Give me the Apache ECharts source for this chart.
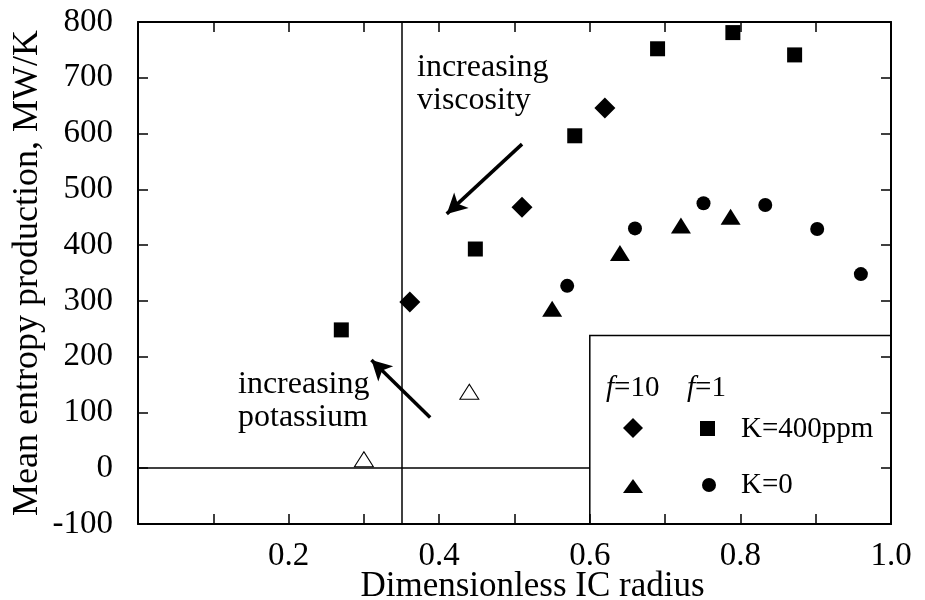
<!DOCTYPE html>
<html>
<head>
<meta charset="utf-8">
<script src="https://cdn.jsdelivr.net/npm/echarts@6/dist/echarts.min.js"></script>
<style>
html,body{margin:0;padding:0;background:#fff;}
#c{width:925px;height:600px;}
</style>
</head>
<body>
<div id="c"></div>
<script>
// Data
const xTicks = [0.2, 0.4, 0.6, 0.8, 1.0];
const yTicks = [-100, 0, 100, 200, 300, 400, 500, 600, 700, 800];
const squareX = [0.27, 0.448, 0.58, 0.69, 0.79, 0.872];      // f=1, K=400ppm
const squareY = [248, 393, 596, 752, 781, 741];
const diamondX = [0.361, 0.51, 0.62];                         // f=10, K=400ppm
const diamondY = [298, 468, 646];
const triangleX = [0.55, 0.64, 0.721, 0.787];                 // f=10, K=0
const triangleY = [286, 386, 435, 451];
const circleX = [0.57, 0.66, 0.751, 0.833, 0.902, 0.96];      // f=1, K=0
const circleY = [327, 430, 475, 472, 429, 348];
const openTriX = [0.30, 0.44];
const openTriY = [16, 137];
const vLineX = 0.35;
const hLineEndX = 0.6;
const legendBox = [[0.6, -100], [1.0, 238]];
const arrowViscosity = [[0.51, 581], [0.41, 456]];
const arrowPotassium = [[0.388, 91], [0.31, 194]];

const zip = (a, b) => a.map((v, i) => [v, b[i]]);
const FONT = 'Liberation Serif';

const chart = echarts.init(document.getElementById('c'));
const axisCommon = {
  type: 'value',
  splitLine: {show: false},
  axisLine: {show: true, onZero: false, lineStyle: {color: '#000', width: 2}},
  axisTick: {show: true, inside: true, length: 10, lineStyle: {color: '#000', width: 1.5}}
};
const solid = {color: '#000', opacity: 1};
const italicRich = {i: {fontStyle: 'italic', fontFamily: FONT, fontSize: 29, fill: '#000'}};
chart.setOption({
  animation: false,
  backgroundColor: '#fff',
  grid: {left: 138, right: 34, top: 22, bottom: 76, containLabel: false, outerBoundsMode: 'none'},
  textStyle: {fontFamily: FONT},
  xAxis: [
    Object.assign({}, axisCommon, {
      position: 'bottom', min: 0, max: 1, interval: 0.1,
      name: 'Dimensionless IC radius', nameLocation: 'middle', nameGap: 45, nameMoveOverlap: false,
      nameTextStyle: {fontFamily: FONT, fontSize: 35, color: '#000', padding: [0, 0, 0, 36]},
      axisLabel: {
        fontFamily: FONT, fontSize: 33, color: '#000', margin: 16,
        formatter: function (v) {
          const r = Math.round(v * 10) / 10;
          return xTicks.some(t => Math.abs(t - r) < 1e-9) ? r.toFixed(1) : '';
        }
      }
    }),
    Object.assign({}, axisCommon, {
      position: 'top', min: 0, max: 1, interval: 0.1, axisLabel: {show: false}
    })
  ],
  yAxis: [
    Object.assign({}, axisCommon, {
      position: 'left', min: yTicks[0], max: yTicks[yTicks.length - 1], interval: 100,
      name: 'Mean entropy production, MW/K', nameLocation: 'middle', nameGap: 92, nameMoveOverlap: false,
      nameTextStyle: {fontFamily: FONT, fontSize: 36, color: '#000'},
      axisLabel: {fontFamily: FONT, fontSize: 33, color: '#000', margin: 25}
    }),
    Object.assign({}, axisCommon, {
      position: 'right', min: yTicks[0], max: yTicks[yTicks.length - 1], interval: 100,
      axisLabel: {show: false}
    })
  ],
  series: [
    {
      type: 'scatter', name: 'guides', data: [], silent: true,
      markLine: {
        silent: true, symbol: ['none', 'none'], label: {show: false},
        lineStyle: {color: '#000', width: 1.5, type: 'solid', opacity: 1},
        data: [
          {xAxis: vLineX},
          [{coord: [0, 0]}, {coord: [hLineEndX, 0]}]
        ]
      },
      markArea: {
        silent: true,
        itemStyle: {color: 'rgba(0,0,0,0)', borderColor: '#000', borderWidth: 1.5, opacity: 1},
        data: [[{coord: legendBox[0]}, {coord: legendBox[1]}]]
      }
    },
    {
      type: 'scatter', name: 'arrows', data: [], silent: true,
      markLine: {
        silent: true, symbol: ['none', 'arrow'], symbolSize: [16, 20], label: {show: false},
        itemStyle: solid,
        lineStyle: {color: '#000', width: 3.5, type: 'solid', opacity: 1},
        data: [
          [{coord: arrowViscosity[0]}, {coord: arrowViscosity[1]}],
          [{coord: arrowPotassium[0]}, {coord: arrowPotassium[1]}]
        ]
      }
    },
    {type: 'scatter', name: 'K=400ppm f=1', symbol: 'rect', symbolSize: 15,
     itemStyle: solid, data: zip(squareX, squareY)},
    {type: 'scatter', name: 'K=400ppm f=10', symbol: 'diamond', symbolSize: [21, 21],
     itemStyle: solid, data: zip(diamondX, diamondY)},
    {type: 'scatter', name: 'K=0 f=10', symbol: 'triangle', symbolSize: [20, 16],
     itemStyle: solid, data: zip(triangleX, triangleY)},
    {type: 'scatter', name: 'K=0 f=1', symbol: 'circle', symbolSize: 14,
     itemStyle: solid, data: zip(circleX, circleY)},
    {type: 'scatter', name: 'open', symbol: 'triangle', symbolSize: [19, 15],
     itemStyle: {color: '#fff', borderColor: '#000', borderWidth: 1, opacity: 1}, data: zip(openTriX, openTriY)}
  ],
  graphic: [
    {type: 'text', left: 417, top: 51, silent: true,
     style: {text: 'increasing\nviscosity', font: '32px "Liberation Serif"', lineHeight: 33, fill: '#000'}},
    {type: 'text', left: 238, top: 368, silent: true,
     style: {text: 'increasing\npotassium', font: '32px "Liberation Serif"', lineHeight: 33, fill: '#000'}},
    {type: 'text', left: 606, top: 374, silent: true,
     style: {text: '{i|f}=10', font: '29px "Liberation Serif"', fill: '#000', rich: italicRich}},
    {type: 'text', left: 687, top: 374, silent: true,
     style: {text: '{i|f}=1', font: '29px "Liberation Serif"', fill: '#000', rich: italicRich}},
    {type: 'text', left: 741, top: 415, silent: true,
     style: {text: 'K=400ppm', font: '29px "Liberation Serif"', fill: '#000'}},
    {type: 'text', left: 741, top: 471, silent: true,
     style: {text: 'K=0', font: '29px "Liberation Serif"', fill: '#000'}},
    {type: 'polygon', silent: true, shape: {points: [[633, 418], [643, 428], [633, 438], [623, 428]]},
     style: {fill: '#000'}},
    {type: 'rect', silent: true, shape: {x: 700, y: 421, width: 15, height: 15}, style: {fill: '#000'}},
    {type: 'polygon', silent: true, shape: {points: [[633, 479], [643, 493], [623, 493]]},
     style: {fill: '#000'}},
    {type: 'circle', silent: true, shape: {cx: 709, cy: 485, r: 7}, style: {fill: '#000'}}
  ]
});
</script>
</body>
</html>
